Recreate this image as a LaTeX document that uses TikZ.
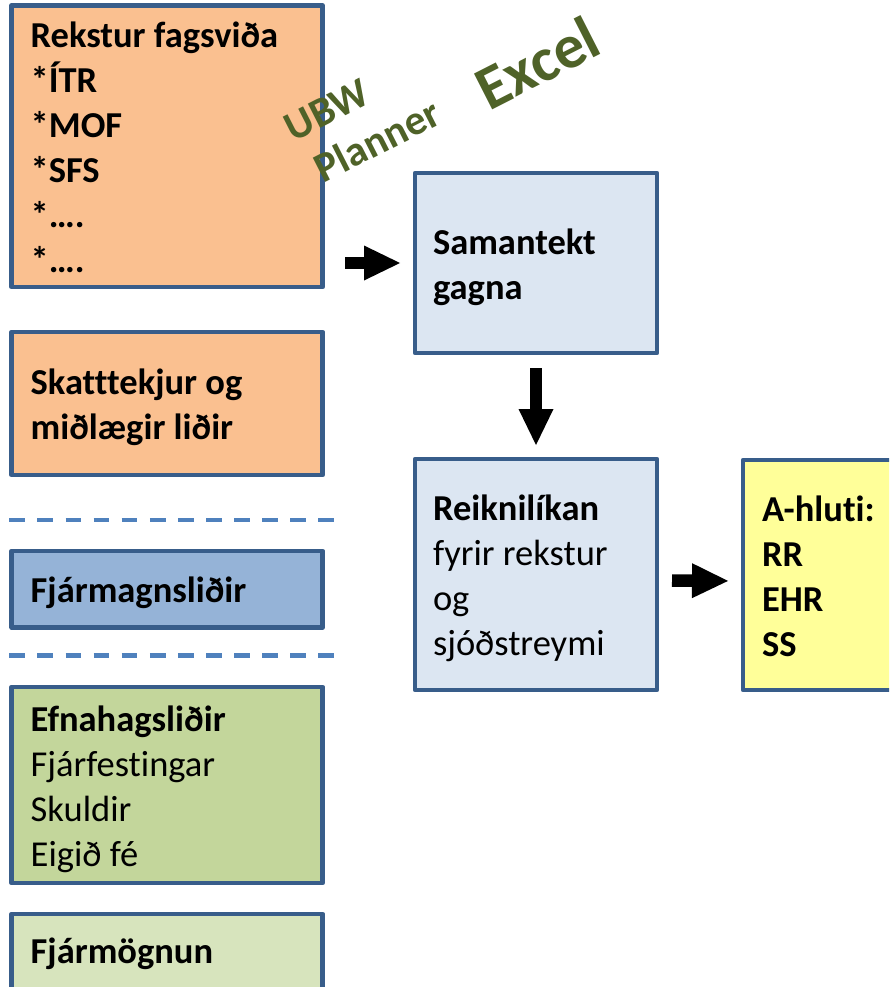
\documentclass[tikz,border=0pt]{standalone}
\usepackage{fontspec}
\setmainfont{Carlito}[Ligatures=NoCommon]
\usetikzlibrary{arrows.meta}
\definecolor{boxline}{HTML}{385D8A}
\definecolor{rekstrarlitur}{HTML}{FAC090}
\definecolor{fjarmagnslitur}{HTML}{95B3D7}
\definecolor{efnahagslitur}{HTML}{C3D69B}
\definecolor{fjarmognunarlitur}{HTML}{D7E4BD}
\definecolor{ferlislitur}{HTML}{DCE6F2}
\definecolor{nidurstodulitur}{HTML}{FFFF99}
\definecolor{skillilitur}{HTML}{4F81BD}
\definecolor{forritalitur}{HTML}{4F6228}
\newcommand{\boxstrut}{\rule[-9pt]{0pt}{45pt}}
\begin{document}
\begin{tikzpicture}[x=1pt, y=-1pt,
    box/.style={draw=boxline, line width=4.5pt, line join=round, outer sep=0pt, anchor=north west, align=flush left,
        inner xsep=19pt, inner ysep=0pt, font=\fontsize{36.5}{45}\selectfont,
        execute at begin node=\boxstrut, execute at end node=\boxstrut},
    leftbox/.style={box, minimum width=311pt, text width=273pt},
    midbox/.style={box, inner xsep=18pt, minimum width=242pt, text width=206pt},
    tool/.style={text=forritalitur, font=\bfseries\fontsize{42}{50}\selectfont, rotate=27},
    blockarrow/.style={line width=12.5pt, -{Triangle[length=36pt, width=35pt, line width=0pt]}},
    divider/.style={draw=skillilitur, line width=4.5pt, dash pattern=on 15.7pt off 12.4pt}]
    \useasboundingbox (0,0) rectangle (889,987);
    \clip (0,0) rectangle (889,987);
    \node[leftbox, fill=rekstrarlitur, minimum height=281.5pt] (rekstur) at (11.7,5.5) {\bfseries Rekstur fagsviða\\{}*ÍTR\\{}*MOF\\{}*SFS\\{}*….\\{}*….};
    \node[leftbox, fill=rekstrarlitur, minimum height=143pt] (skatttekjur) at (11.7,332) {\bfseries Skatttekjur og\\miðlægir liðir};
    \node[leftbox, fill=fjarmagnslitur, minimum height=76.5pt] (fjarmagn) at (11.7,551) {\bfseries Fjármagnsliðir};
    \node[leftbox, fill=efnahagslitur, minimum height=196pt] (efnahagur) at (11.7,687) {\textbf{Efnahagsliðir}\\Fjárfestingar\\Skuldir\\Eigið fé};
    \node[leftbox, fill=fjarmognunarlitur, minimum height=90pt, execute at end node={\rule[-28pt]{0pt}{1pt}}] (fjarmognun) at (11.7,914) {\bfseries Fjármögnun};
    \node[midbox, fill=ferlislitur, minimum height=180pt] (samantekt) at (415,173) {\bfseries Samantekt\\gagna};
    \node[midbox, fill=ferlislitur, minimum height=231pt] (reiknilikan) at (415,459) {\textbf{Reiknilíkan}\\fyrir rekstur\\og\\sjóðstreymi};
    \node[box, fill=nidurstodulitur, minimum width=190pt, text width=152pt, minimum height=230pt] (ahluti) at (743,460) {\bfseries A-hluti:\\RR\\EHR\\SS};
    \draw[divider] (9.3,520) -- (334,520);
    \draw[divider] (9.3,655.5) -- (334,655.5);
    \node[tool] (ubw) at (327,110) {UBW};
    \node[tool] (planner) at (377,140) {Planner};
    \node[tool, font=\bfseries\fontsize{62}{70}\selectfont] (excel) at (537,63) {Excel};
    \draw[blockarrow, shorten <=22.3pt, shorten >=15pt] (rekstur.east |- samantekt.west) -- (samantekt.west);
    \draw[blockarrow, shorten <=15pt, shorten >=14pt] (samantekt.south) -- (reiknilikan.north);
    \draw[blockarrow, shorten <=15pt, shorten >=15pt] ([yshift=-6pt]reiknilikan.east) -- ([yshift=-6pt]ahluti.west);
\end{tikzpicture}
\end{document}
